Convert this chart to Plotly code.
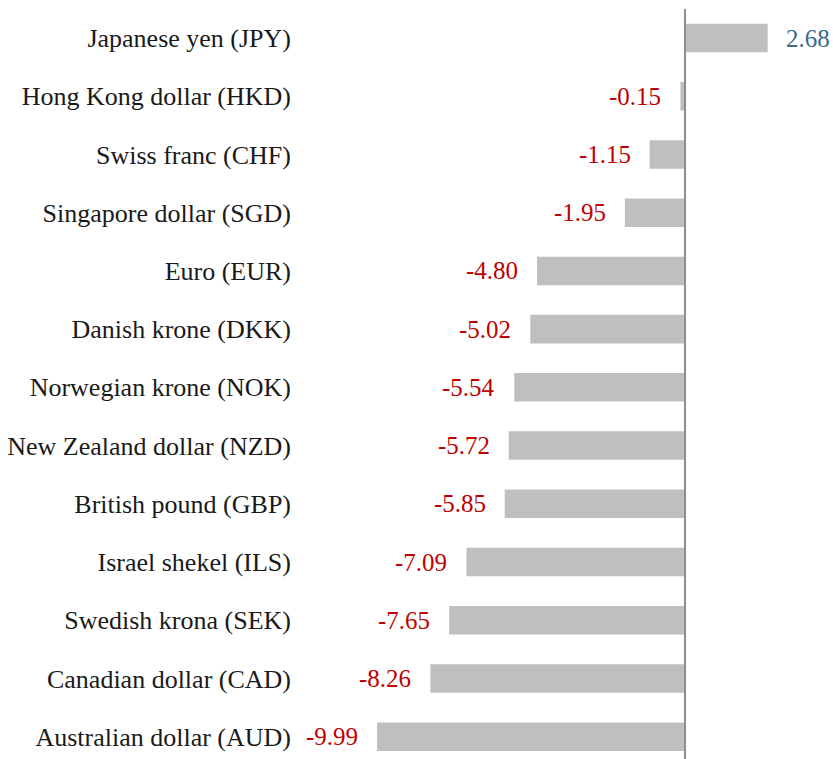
import plotly.graph_objects as go

currencies = [
    "Japanese yen (JPY)", "Hong Kong dollar (HKD)", "Swiss franc (CHF)",
    "Singapore dollar (SGD)", "Euro (EUR)", "Danish krone (DKK)",
    "Norwegian krone (NOK)", "New Zealand dollar (NZD)", "British pound (GBP)",
    "Israel shekel (ILS)", "Swedish krona (SEK)", "Canadian dollar (CAD)",
    "Australian dollar (AUD)",
]
changes = [2.68, -0.15, -1.15, -1.95, -4.80, -5.02, -5.54, -5.72, -5.85,
           -7.09, -7.65, -8.26, -9.99]

FONT = "Liberation Serif"
POS_COLOR = "#3b6a8a"
NEG_COLOR = "#c00000"

fig = go.Figure()
fig.add_trace(go.Bar(
    x=changes, y=currencies, orientation="h",
    marker=dict(color="#bfbfbf", line=dict(width=0)),
    width=0.49, hoverinfo="skip",
))

for cur, v in zip(currencies, changes):
    fig.add_annotation(
        x=v, y=cur, text=f"{v:.2f}", showarrow=False,
        xanchor="left" if v >= 0 else "right",
        xshift=16 if v >= 0 else -17,
        font=dict(family=FONT, size=25, color=POS_COLOR if v >= 0 else NEG_COLOR),
    )

fig.update_layout(
    width=833, height=759,
    margin=dict(l=300, r=0, t=0, b=0),
    paper_bgcolor="white", plot_bgcolor="white",
    showlegend=False,
    font=dict(family=FONT, size=26, color="#1a1a1a"),
    xaxis=dict(range=[-12.49, 4.8], showgrid=False, showticklabels=False,
               zeroline=False, showline=False, ticks=""),
    yaxis=dict(categoryorder="array", categoryarray=currencies,
               range=[12.383, -0.653], showgrid=False, ticks="",
               ticklabelstandoff=8, showline=False, zeroline=False),
)
fig.add_shape(type="line", xref="x", yref="paper", x0=0, x1=0, y0=0, y1=0.988,
              line=dict(color="#8c8c8c", width=2))

fig.write_html(
    "out.html",
    config={"displayModeBar": False},
    post_script="document.body.style.margin='0';document.body.style.overflow='hidden';",
)
